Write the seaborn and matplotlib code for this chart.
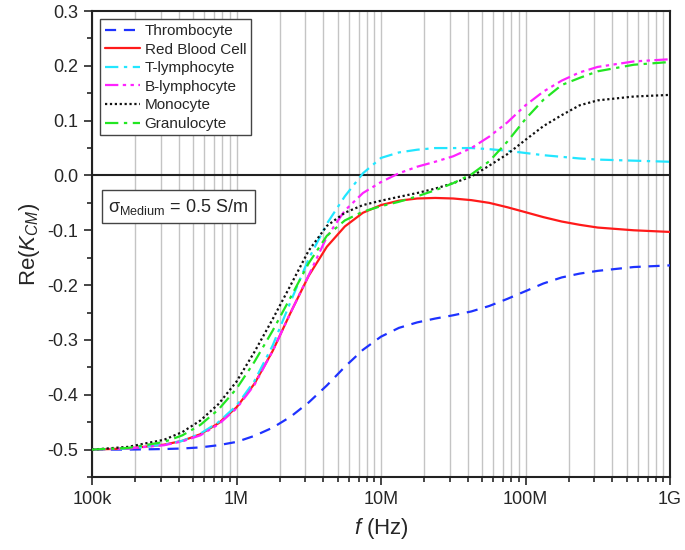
import numpy as np
import pandas as pd
import seaborn as sns
import matplotlib.pyplot as plt
from matplotlib.ticker import LogLocator, NullFormatter, MultipleLocator

# frequency grid (Hz)
freq = [1e5, 1.78e5, 3.16e5, 4.22e5, 5.62e5, 7.5e5, 1e6, 1.33e6, 1.78e6, 2.37e6,
        3.16e6, 4.22e6, 5.62e6, 7.5e6, 1e7, 1.33e7, 1.78e7, 2.37e7, 3.16e7, 4.22e7,
        5.62e7, 7.5e7, 1e8, 1.33e8, 1.78e8, 2.37e8, 3.16e8, 5.62e8, 1e9]

thrombocyte = [-0.500, -0.500, -0.499, -0.498, -0.496, -0.492, -0.486, -0.475, -0.460, -0.440,
               -0.414, -0.383, -0.349, -0.318, -0.294, -0.278, -0.268, -0.261, -0.255, -0.248,
               -0.238, -0.225, -0.211, -0.197, -0.186, -0.179, -0.174, -0.167, -0.164]
red_blood_cell = [-0.500, -0.498, -0.491, -0.484, -0.472, -0.452, -0.423, -0.380, -0.320, -0.250,
                  -0.183, -0.130, -0.093, -0.068, -0.054, -0.046, -0.042, -0.041, -0.042, -0.045,
                  -0.050, -0.058, -0.067, -0.076, -0.084, -0.090, -0.095, -0.100, -0.103]
t_lymphocyte = [-0.500, -0.498, -0.491, -0.484, -0.471, -0.450, -0.420, -0.375, -0.310, -0.230,
                -0.152, -0.088, -0.038, 0.004, 0.032, 0.042, 0.047, 0.050, 0.050, 0.050,
                0.048, 0.045, 0.041, 0.037, 0.034, 0.031, 0.029, 0.027, 0.025]
b_lymphocyte = [-0.500, -0.498, -0.492, -0.485, -0.474, -0.454, -0.425, -0.382, -0.320, -0.250,
                -0.182, -0.112, -0.064, -0.032, -0.012, 0.004, 0.016, 0.025, 0.035, 0.050,
                0.071, 0.097, 0.128, 0.153, 0.173, 0.188, 0.198, 0.208, 0.212]
monocyte = [-0.500, -0.495, -0.482, -0.468, -0.447, -0.417, -0.376, -0.322, -0.262, -0.200,
            -0.137, -0.092, -0.068, -0.054, -0.046, -0.039, -0.032, -0.024, -0.014, -0.002,
            0.018, 0.039, 0.065, 0.090, 0.110, 0.128, 0.137, 0.144, 0.147]
granulocyte = [-0.500, -0.497, -0.486, -0.474, -0.455, -0.427, -0.389, -0.340, -0.283, -0.222,
               -0.160, -0.110, -0.082, -0.066, -0.056, -0.048, -0.038, -0.027, -0.014, 0.002,
               0.026, 0.062, 0.103, 0.138, 0.165, 0.178, 0.190, 0.202, 0.207]

cells = ['Thrombocyte', 'Red Blood Cell', 'T-lymphocyte', 'B-lymphocyte', 'Monocyte', 'Granulocyte']
series = [thrombocyte, red_blood_cell, t_lymphocyte, b_lymphocyte, monocyte, granulocyte]

xtick_vals = [1e5, 1e6, 1e7, 1e8, 1e9]
xtick_labels = ['100k', '1M', '10M', '100M', '1G']

colors = {'Thrombocyte': '#1e32ff', 'Red Blood Cell': '#ff1a1a', 'T-lymphocyte': '#22e6ff',
          'B-lymphocyte': '#ff22ff', 'Monocyte': '#111111', 'Granulocyte': '#22e622'}
dash_map = {'Thrombocyte': (5, 3.5), 'Red Blood Cell': '', 'T-lymphocyte': (6, 2.5, 1.5, 2.5),
            'B-lymphocyte': (6, 2, 1.5, 2, 1.5, 2), 'Monocyte': (1, 1.2), 'Granulocyte': (6, 2.5, 1.5, 2.5)}

df = pd.concat([pd.DataFrame({'freq': freq, 're_k': vals, 'cell': name})
                for name, vals in zip(cells, series)], ignore_index=True)

sns.set_style('ticks')
plt.rcParams['font.family'] = ['Liberation Sans', 'DejaVu Sans']
plt.rcParams['mathtext.fontset'] = 'custom'
plt.rcParams['mathtext.rm'] = 'Liberation Sans'
plt.rcParams['mathtext.it'] = 'Liberation Sans:italic'
plt.rcParams['axes.unicode_minus'] = False

fig = plt.figure(figsize=(6.85, 5.5), dpi=100)
ax = fig.add_axes([92 / 685, 1 - 477 / 550, 578 / 685, 466 / 550])

sns.lineplot(data=df, x='freq', y='re_k', hue='cell', style='cell', hue_order=cells,
             style_order=cells, palette=colors, dashes=dash_map, linewidth=1.6,
             estimator=None, sort=False, ax=ax, zorder=3)

ax.set_xscale('log')
ax.set_xlim(1e5, 1e9)
ax.set_ylim(-0.55, 0.3)
ax.set_xticks(xtick_vals, labels=xtick_labels)
ax.xaxis.set_minor_locator(LogLocator(base=10, subs=np.arange(2, 10)))
ax.xaxis.set_minor_formatter(NullFormatter())
ax.yaxis.set_major_locator(MultipleLocator(0.1))
ax.yaxis.set_minor_locator(MultipleLocator(0.05))
ax.yaxis.set_major_formatter(lambda v, pos: f'{v:.1f}')

ax.grid(True, which='both', axis='x', color='#c4c4c4', lw=1, zorder=0)
ax.axhline(0, color='#222222', lw=1.5, zorder=2)

ax.tick_params(which='both', direction='out', top=False, right=False, width=1.2, labelsize=13)
ax.tick_params(which='major', length=6, pad=4)
ax.tick_params(which='minor', length=3.5)
for sp in ax.spines.values():
    sp.set_linewidth(1.5)
    sp.set_color('#222222')

ax.set_xlabel(r'$f$ (Hz)', fontsize=16, labelpad=6)
ax.set_ylabel(r'Re($K_{CM}$)', fontsize=16, labelpad=4)

handles, labels = ax.get_legend_handles_labels()
leg = ax.legend(handles, labels, loc='upper left', fontsize=11, frameon=True, fancybox=False,
                framealpha=1, edgecolor='#444444', handlelength=2.3, handletextpad=0.3,
                labelspacing=0.3, borderpad=0.3, borderaxespad=0.55)
leg.get_frame().set_linewidth(1)

ax.text(0.028, 0.58, r'σ$_{\rm Medium}$ = 0.5 S/m', transform=ax.transAxes, fontsize=13,
        ha='left', va='center',
        bbox=dict(boxstyle='square,pad=0.35', facecolor='white', edgecolor='#444444', lw=1))

fig.savefig('out.png', dpi=100)
